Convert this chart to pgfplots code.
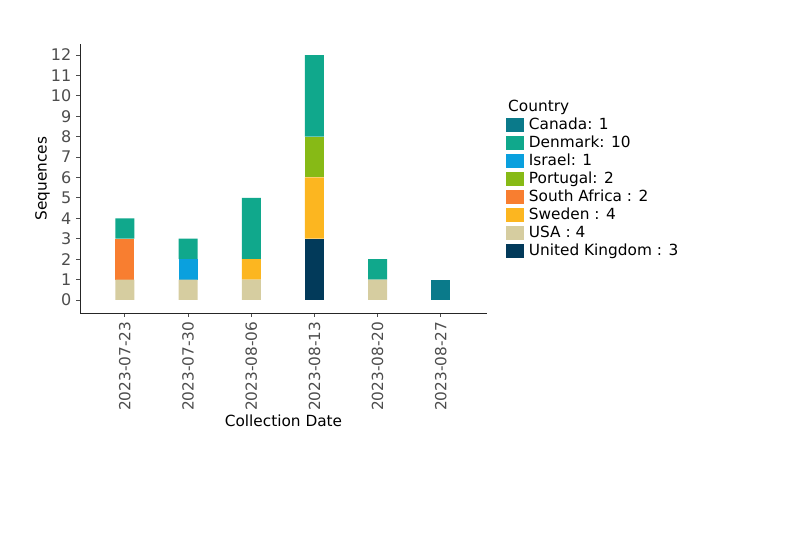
\documentclass[border=0pt]{standalone}
\usepackage{fontspec}
\setmainfont{DejaVu Sans}
\usepackage{pgfplots}
\pgfplotsset{compat=1.18}
\definecolor{cCanada}{RGB}{10,122,138}
\definecolor{cDenmark}{RGB}{16,168,140}
\definecolor{cIsrael}{RGB}{10,160,222}
\definecolor{cPortugal}{RGB}{135,186,22}
\definecolor{cSAfrica}{RGB}{248,126,48}
\definecolor{cSweden}{RGB}{252,182,32}
\definecolor{cUSA}{RGB}{214,205,160}
\definecolor{cUK}{RGB}{2,58,90}
\definecolor{tickgray}{RGB}{77,77,77}
\begin{document}
\begin{tikzpicture}
\path[use as bounding box] (0,0) rectangle (600pt,400.5pt);
\begin{axis}[
  at={(60pt,165.75pt)}, anchor=south west,
  scale only axis, width=305.25pt, height=201.75pt,
  ybar stacked, bar width=14.25pt,
  xmin=-0.71, xmax=5.73, ymin=-0.64, ymax=12.54,
  xtick={0,...,5},
  xticklabels={2023-07-23,2023-07-30,2023-08-06,2023-08-13,2023-08-20,2023-08-27},
  xticklabel style={rotate=90, anchor=east, font=\fontsize{11.5}{13}\selectfont, text=tickgray},
  ytick={0,...,12},
  yticklabel style={font=\fontsize{12}{13}\selectfont, text=tickgray},
  /pgf/number format/assume math mode=true,
  axis x line*=bottom, axis y line*=left,
  axis line style={black!85, line width=0.7pt},
  tick style={black!70, line width=0.6pt},
  tick align=outside, major tick length=3pt,
  xlabel={Collection Date}, ylabel={Sequences},
  label style={font=\fontsize{11.5}{13}\selectfont},
  xlabel style={yshift=4pt},
  ylabel style={yshift=-6pt},
  legend style={at={(1.045,0.80)}, anchor=north west, draw=none, fill=none,
    font=\fontsize{11.5}{13.5}\selectfont, row sep=0pt, inner sep=0pt,
    nodes={inner sep=0.5pt, text height=9.5pt, text depth=3pt}},
  legend cell align=left,
  reverse legend,
  legend image code/.code={\fill[#1] (0pt,-5pt) rectangle (14pt,5.5pt);},
]
\addplot[fill=cUK, draw=none] coordinates {(0,0) (1,0) (2,0) (3,3) (4,0) (5,0)};
\addlegendentry{\hspace{3pt}United Kingdom : 3}
\addplot[fill=cUSA, draw=none] coordinates {(0,1) (1,1) (2,1) (3,0) (4,1) (5,0)};
\addlegendentry{\hspace{3pt}USA : 4}
\addplot[fill=cSweden, draw=none] coordinates {(0,0) (1,0) (2,1) (3,3) (4,0) (5,0)};
\addlegendentry{\hspace{3pt}Sweden : 4}
\addplot[fill=cSAfrica, draw=none] coordinates {(0,2) (1,0) (2,0) (3,0) (4,0) (5,0)};
\addlegendentry{\hspace{3pt}South Africa : 2}
\addplot[fill=cPortugal, draw=none] coordinates {(0,0) (1,0) (2,0) (3,2) (4,0) (5,0)};
\addlegendentry{\hspace{3pt}Portugal: 2}
\addplot[fill=cIsrael, draw=none] coordinates {(0,0) (1,1) (2,0) (3,0) (4,0) (5,0)};
\addlegendentry{\hspace{3pt}Israel: 1}
\addplot[fill=cDenmark, draw=none] coordinates {(0,1) (1,1) (2,3) (3,4) (4,1) (5,0)};
\addlegendentry{\hspace{3pt}Denmark: 10}
\addplot[fill=cCanada, draw=none] coordinates {(0,0) (1,0) (2,0) (3,0) (4,0) (5,1)};
\addlegendentry{\hspace{3pt}Canada: 1}
\addlegendimage{empty legend}
\addlegendentry{\hspace{-12.5pt}Country}
\end{axis}
\end{tikzpicture}
\end{document}
